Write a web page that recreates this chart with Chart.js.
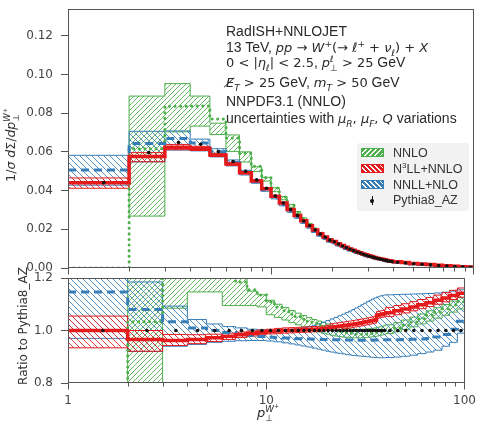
<!DOCTYPE html>
<html><head><meta charset="utf-8">
<script src="https://cdn.jsdelivr.net/npm/chart.js@4/dist/chart.umd.min.js"></script>
<style>
html,body{margin:0;padding:0;background:#fff;}
#wrap{position:relative;width:487px;height:428px;overflow:hidden;font-family:"DejaVu Sans",sans-serif;color:#333;}
canvas{position:absolute;left:0;}
#cMain{top:-20px;}
#cRatio{top:250px;}
.t{position:absolute;white-space:nowrap;font-family:"Liberation Sans",Arial,sans-serif;font-size:14px;line-height:16px;z-index:5;color:#2a2a2a;}
.t sub,.t sup{font-size:9px;line-height:0;}
.m{font-family:"DejaVu Sans",sans-serif;font-size:13px;}
.m i{font-style:oblique;}
.ss{display:inline-block;vertical-align:-0.45em;line-height:1;font-size:0.68em;text-align:left;}
.ss>span{display:block;}
.rot{position:absolute;white-space:nowrap;transform:translate(-50%,-50%) rotate(-90deg);z-index:5;}
#legend{position:absolute;left:357px;top:143px;width:112px;height:68px;background:rgba(240,240,240,0.85);border-radius:3px;z-index:4;}
.patch{position:absolute;left:4px;width:23px;height:9px;}
.lt{position:absolute;left:36px;font-family:"Liberation Sans",Arial,sans-serif;font-size:12.5px;line-height:14px;white-space:nowrap;color:#333;}
</style></head>
<body><div id="wrap">
<canvas id="cMain" width="487" height="316" style="width:487px;height:316px"></canvas>
<canvas id="cRatio" width="487" height="178" style="width:487px;height:178px"></canvas>

<div class="t" style="left:226px;top:23px">RadISH+NNLOJET</div>
<div class="t" style="left:226px;top:39px">13 TeV, <span class="m"><i>pp</i>&nbsp;→&nbsp;<i>W</i><sup>+</sup>(→&nbsp;<i>ℓ</i><sup>+</sup>&nbsp;+&nbsp;<i>ν</i><sub><i>ℓ</i></sub>)&nbsp;+&nbsp;<i>X</i></span></div>
<div class="t" style="left:226px;top:54px"><span class="m">0&nbsp;&lt;&nbsp;|<i>η</i><sub><i>ℓ</i></sub>|&nbsp;&lt;&nbsp;2.5</span>, <span class="m"><i>p</i><span class="ss"><span><i>ℓ</i></span><span>⊥</span></span>&nbsp;&gt;&nbsp;25</span> GeV</div>
<div class="t" style="left:226px;top:74px"><span class="m"><i>E̸</i><sub><i>T</i></sub>&nbsp;&gt;&nbsp;25</span> GeV, <span class="m"><i>m</i><sub><i>T</i></sub>&nbsp;&gt;&nbsp;50</span> GeV</div>
<div class="t" style="left:226px;top:93px">NNPDF3.1 (NNLO)</div>
<div class="t" style="left:226px;top:110px">uncertainties with <span class="m"><i>μ</i><sub><i>R</i></sub>, <i>μ</i><sub><i>F</i></sub>, <i>Q</i></span> variations</div>

<div id="legend">
  <div class="patch" style="top:5px;background:repeating-linear-gradient(135deg,#4daf4a 0 2.6px,rgba(255,255,255,0.85) 2.6px 3.6px);border:1px solid #4daf4a;box-sizing:border-box"></div>
  <div class="lt" style="top:3px">NNLO</div>
  <div class="patch" style="top:21px;background:repeating-linear-gradient(45deg,#e41a1c 0 2.6px,rgba(255,255,255,0.85) 2.6px 3.6px);border:1px solid #e41a1c;box-sizing:border-box"></div>
  <div class="lt" style="top:19px">N<sup style="font-size:8px;line-height:0">3</sup>LL+NNLO</div>
  <div class="patch" style="top:37px;background:repeating-linear-gradient(45deg,#377eb8 0 2.6px,rgba(255,255,255,0.85) 2.6px 3.6px);border:1px solid #377eb8;box-sizing:border-box"></div>
  <div class="lt" style="top:35px">NNLL+NLO</div>
  <div style="position:absolute;left:14.5px;top:53px;width:1px;height:9px;background:#111"></div>
  <div style="position:absolute;left:13px;top:55.5px;width:4px;height:4px;border-radius:50%;background:#111"></div>
  <div class="lt" style="top:50px">Pythia8_AZ</div>
</div>

<div class="rot" style="left:11px;top:145px;font-size:12.5px;color:#333">1/<i>σ</i> <i>d</i>Σ/<i>dp</i><span class="ss"><span><i>W</i><sup style="font-size:6px">+</sup></span><span>⊥</span></span></div>
<div class="rot" style="left:23px;top:326px;font-size:12px;color:#333">Ratio to Pythia8_AZ</div>
<div class="t" style="left:268px;top:405px;transform:translateX(-50%);font-family:'DejaVu Sans',sans-serif;font-size:13px"><i>p</i><span class="ss"><span><i>W</i><sup style="font-size:6px">+</sup></span><span>⊥</span></span></div>
</div>

<script>
// ---------------- data ----------------
const edges = [1,2,3,4,5,6,7,8,9,10,11,12,13,14,15,16,17,18,19,20,21,22,23,24,25,26,27,28,29,30,31,32,33,34,35,36,37,38,39,40,44,48,53,58,64,70,77,84,92,100];
const pythia = [0.0441,0.0596,0.0648,0.0639,0.0601,0.0550,0.0500,0.0455,0.0412,0.0372,
  0.0336,0.0302,0.0271,0.0243,0.0218,0.0196,0.0176,0.0159,0.0144,0.0135,
  0.0124,0.0114,0.0105,0.0097,0.0090,0.0083,0.0077,0.0071,0.0066,0.0061,
  0.0057,0.0053,0.0049,0.0046,0.0043,0.0040,0.0037,0.0035,0.0033,
  0.0030,0.0026,0.0022,0.0019,0.0016,0.0013,0.0010,0.0008,0.0006,0.0004];
// ratios to Pythia8_AZ
const n3llC = [1.000,0.966,0.962,0.966,0.972,0.978,0.984,0.989,0.993,0.996,
  0.998,1.000,1.001,1.002,1.003,1.004,1.005,1.006,1.008,1.010,
  1.012,1.014,1.016,1.018,1.020,1.022,1.024,1.026,1.028,1.030,
  1.032,1.034,1.036,1.038,1.040,1.058,1.060,1.062,1.064,
  1.068,1.075,1.082,1.090,1.098,1.106,1.115,1.124,1.133,1.142];
const n3llLo = [0.934,0.921,0.943,0.950,0.958,0.966,0.973,0.979,0.984,0.987,
  0.988,0.990,0.991,0.992,0.993,0.994,0.995,0.996,0.998,1.000,
  1.000,1.002,1.004,1.006,1.008,1.010,1.012,1.014,1.016,1.018,
  1.020,1.022,1.024,1.026,1.028,1.046,1.048,1.050,1.052,
  1.053,1.060,1.067,1.075,1.083,1.091,1.100,1.109,1.118,1.127];
const n3llHi = [1.055,1.000,0.985,0.984,0.986,0.990,0.994,0.998,1.002,1.005,
  1.008,1.010,1.011,1.012,1.013,1.014,1.015,1.016,1.018,1.020,
  1.026,1.028,1.030,1.032,1.034,1.036,1.038,1.040,1.042,1.044,
  1.046,1.048,1.050,1.052,1.054,1.072,1.074,1.076,1.078,
  1.088,1.095,1.102,1.110,1.118,1.126,1.135,1.144,1.153,1.162];
const nnllC = [1.147,1.080,1.033,1.010,1.000,0.992,0.986,0.981,0.977,0.974,
  0.972,0.971,0.970,0.969,0.968,0.968,0.967,0.967,0.966,0.966,
  0.965,0.965,0.965,0.964,0.964,0.964,0.964,0.963,0.963,0.963,
  0.963,0.963,0.963,0.964,0.964,0.964,0.965,0.965,0.965,
  0.965,0.965,0.966,0.967,0.968,0.970,0.975,0.985,1.005,1.035];
const nnllLo = [0.970,0.920,0.940,0.947,0.955,0.959,0.961,0.962,0.962,0.960,
  0.957,0.953,0.949,0.945,0.941,0.937,0.933,0.929,0.925,0.921,
  0.918,0.915,0.913,0.911,0.909,0.907,0.905,0.904,0.903,0.902,
  0.901,0.900,0.899,0.898,0.897,0.897,0.896,0.896,0.896,
  0.897,0.899,0.902,0.906,0.912,0.918,0.925,0.940,0.955,0.990];
const nnllHi = [1.320,1.185,1.093,1.042,1.025,1.015,1.010,1.005,1.002,1.000,
  1.000,1.001,1.003,1.006,1.010,1.015,1.020,1.026,1.032,1.038,
  1.044,1.050,1.056,1.062,1.068,1.074,1.080,1.086,1.092,1.098,
  1.104,1.110,1.115,1.120,1.124,1.128,1.131,1.133,1.135,
  1.136,1.137,1.138,1.139,1.140,1.141,1.143,1.146,1.150,1.155];
const nnloC = [0,1.033,1.290,1.310,1.280,1.220,1.185,1.155,1.135,1.110,
  1.090,1.075,1.062,1.052,1.043,1.035,1.028,1.021,1.015,1.010,
  1.005,1.000,0.997,0.994,0.992,0.990,0.988,0.987,0.986,0.986,
  0.986,0.987,0.988,0.989,0.990,0.992,0.994,0.996,0.998,
  1.002,1.010,1.020,1.032,1.045,1.058,1.070,1.083,1.097,1.110];
const nnloLo = [null,0.450,1.085,1.147,1.147,1.095,1.095,1.095,1.090,1.060,
  1.050,1.040,1.030,1.022,1.014,1.006,1.000,0.995,0.990,0.986,
  0.982,0.979,0.977,0.975,0.974,0.973,0.972,0.972,0.972,0.972,
  0.973,0.974,0.975,0.976,0.977,0.979,0.981,0.983,0.985,
  0.988,0.995,1.004,1.014,1.025,1.036,1.047,1.058,1.070,1.082];
const nnloHi = [null,1.490,1.470,1.390,1.245,1.250,1.200,1.150,1.136,1.115,
  1.100,1.088,1.076,1.066,1.057,1.049,1.042,1.036,1.030,1.025,
  1.020,1.016,1.013,1.010,1.008,1.006,1.005,1.004,1.004,1.004,
  1.005,1.006,1.007,1.008,1.010,1.012,1.014,1.016,1.018,
  1.022,1.030,1.040,1.051,1.063,1.075,1.087,1.099,1.112,1.125];
const mainYTicks = [0,0.02,0.04,0.06,0.08,0.10,0.12];
const ratioYTicks = [0.8,1.0,1.2];
const xMajor = [1,10,100];
const xMinor = [2,3,4,5,6,7,8,9,20,30,40,50,60,70,80,90];

// ---------------- styling ----------------
const GREEN = '#4daf4a', RED = '#e41a1c', BLUE = '#377eb8';
Chart.defaults.font.family = "'DejaVu Sans', sans-serif";
Chart.defaults.font.size = 12;
Chart.defaults.color = '#444';

function hatch(ctx, color, dir, s, lw) {
  const c = document.createElement('canvas');
  c.width = s; c.height = s;
  const g = c.getContext('2d');
  g.strokeStyle = color; g.lineWidth = lw;
  g.beginPath();
  if (dir === '/') {
    g.moveTo(0, s); g.lineTo(s, 0);
    g.moveTo(-1, 1); g.lineTo(1, -1);
    g.moveTo(s - 1, s + 1); g.lineTo(s + 1, s - 1);
  } else {
    g.moveTo(0, 0); g.lineTo(s, s);
    g.moveTo(-1, s - 1); g.lineTo(1, s + 1);
    g.moveTo(s - 1, -1); g.lineTo(s + 1, 1);
  }
  g.stroke();
  return ctx.createPattern(c, 'repeat');
}

function stepPts(vals) {
  const pts = vals.map((v, i) => ({x: edges[i], y: v}));
  pts.push({x: edges[vals.length], y: vals[vals.length - 1]});
  return pts;
}
function bandPts(lo, hi, s) {
  const n = lo.length, pts = [];
  for (let i = s; i < n; i++) pts.push({x: edges[i], y: hi[i]});
  pts.push({x: edges[n], y: hi[n - 1]});
  pts.push({x: edges[n], y: lo[n - 1]});
  for (let i = n - 1; i >= s + 1; i--) pts.push({x: edges[i], y: lo[i - 1]});
  pts.push({x: edges[s], y: lo[s]});
  pts.push({x: edges[s], y: hi[s]});
  return pts;
}

function buildSets(ctx, f) {
  const conv = arr => arr.map((r, i) => r === null ? null : f(r, i));
  const centers = pythia.map((p, i) => (edges[i] + edges[i + 1]) / 2);
  const base = {pointRadius: 0, pointHoverRadius: 0, stepped: 'before', fill: false};
  return [
    {label: 'Pythia8_AZ', data: centers.map((c, i) => ({x: c, y: f(1, i)})), showLine: false,
     pointRadius: 1.8, pointBackgroundColor: '#111', pointBorderWidth: 0, order: 0},
    Object.assign({}, base, {label: 'N3LL+NNLO', data: stepPts(conv(n3llC)), borderColor: RED, borderWidth: 3.5, order: 1}),
    Object.assign({}, base, {label: 'NNLL+NLO', data: stepPts(conv(nnllC)), borderColor: BLUE, borderWidth: 3, borderDash: [8, 5], order: 2}),
    Object.assign({}, base, {label: 'NNLO', data: stepPts(conv(nnloC)), borderColor: GREEN, borderWidth: 3, borderDash: [0.1, 5.5], borderCapStyle: 'round', order: 3}),
    Object.assign({}, base, {label: 'N3LL band', data: bandPts(conv(n3llLo), conv(n3llHi), 0), borderColor: RED, borderWidth: 1,
      backgroundColor: hatch(ctx, 'rgba(228,26,28,0.85)', '\\', 6, 1), fill: 'shape', order: 4}),
    Object.assign({}, base, {label: 'NNLL band', data: bandPts(conv(nnllLo), conv(nnllHi), 0), borderColor: BLUE, borderWidth: 1,
      backgroundColor: hatch(ctx, 'rgba(55,126,184,0.85)', '\\', 6, 1), fill: 'shape', order: 5}),
    Object.assign({}, base, {label: 'NNLO band', data: bandPts(conv(nnloLo), conv(nnloHi), 1), borderColor: GREEN, borderWidth: 1,
      backgroundColor: hatch(ctx, 'rgba(77,175,74,0.85)', '/', 5, 1), fill: 'shape', order: 6})
  ];
}

const framePlugin = {
  id: 'frame',
  afterDraw(chart) {
    const {ctx, chartArea: a} = chart;
    const x = chart.scales.x;
    ctx.save();
    ctx.strokeStyle = '#555'; ctx.lineWidth = 1;
    const L = Math.round(a.left) + 0.5, R = Math.round(a.right) - 0.5, T = Math.round(a.top) + 0.5, B = Math.round(a.bottom) - 0.5;
    ctx.strokeRect(L, T, R - L, B - T);
    ctx.beginPath();
    xMajor.forEach(v => { const p = Math.min(R, Math.max(L, Math.round(x.getPixelForValue(v)) + 0.5)); ctx.moveTo(p, B); ctx.lineTo(p, B + 7); });
    xMinor.forEach(v => { const p = Math.round(x.getPixelForValue(v)) + 0.5; ctx.moveTo(p, B); ctx.lineTo(p, B + 4); });
    ctx.stroke();
    ctx.restore();
  }
};

function yScale(min, max, ticks, dec) {
  return {
    type: 'linear', min: min, max: max, position: 'left',
    afterFit: s => { s.width = 68; },
    afterBuildTicks: s => { s.ticks = ticks.map(v => ({value: v})); },
    ticks: {callback: v => Number(v).toFixed(dec), color: '#444', padding: 8, font: {size: 12}},
    grid: {drawOnChartArea: false, drawTicks: true, tickLength: 7, tickColor: '#555', tickWidth: 1},
    border: {display: false}
  };
}

const ctxA = document.getElementById('cMain').getContext('2d');
new Chart(ctxA, {
  type: 'line',
  data: {datasets: buildSets(ctxA, (r, i) => r * pythia[i])},
  plugins: [framePlugin],
  options: {
    responsive: false, animation: false, events: [],
    layout: {padding: {top: 29, right: 13, bottom: 28, left: 0}},
    plugins: {legend: {display: false}, tooltip: {enabled: false}},
    scales: {
      x: {type: 'logarithmic', min: 1, max: 100, display: false},
      y: yScale(0, 0.1338, mainYTicks, 2)
    }
  }
});

const ctxB = document.getElementById('cRatio').getContext('2d');
new Chart(ctxB, {
  type: 'line',
  data: {datasets: buildSets(ctxB, (r, i) => r)},
  plugins: [framePlugin],
  options: {
    responsive: false, animation: false, events: [],
    layout: {padding: {top: 28, right: 13, bottom: 0, left: 0}},
    plugins: {legend: {display: false}, tooltip: {enabled: false}},
    scales: {
      x: {type: 'logarithmic', min: 1, max: 100,
        afterFit: s => { s.height = 45; },
        afterBuildTicks: s => { s.ticks = xMajor.map(v => ({value: v})); },
        ticks: {autoSkip: false, maxRotation: 0, padding: 11, color: '#444', callback: v => String(v), font: {size: 12}},
        grid: {drawOnChartArea: false, drawTicks: false},
        border: {display: false}
      },
      y: yScale(0.8, 1.2, ratioYTicks, 1)
    }
  }
});
</script>
</body></html>
